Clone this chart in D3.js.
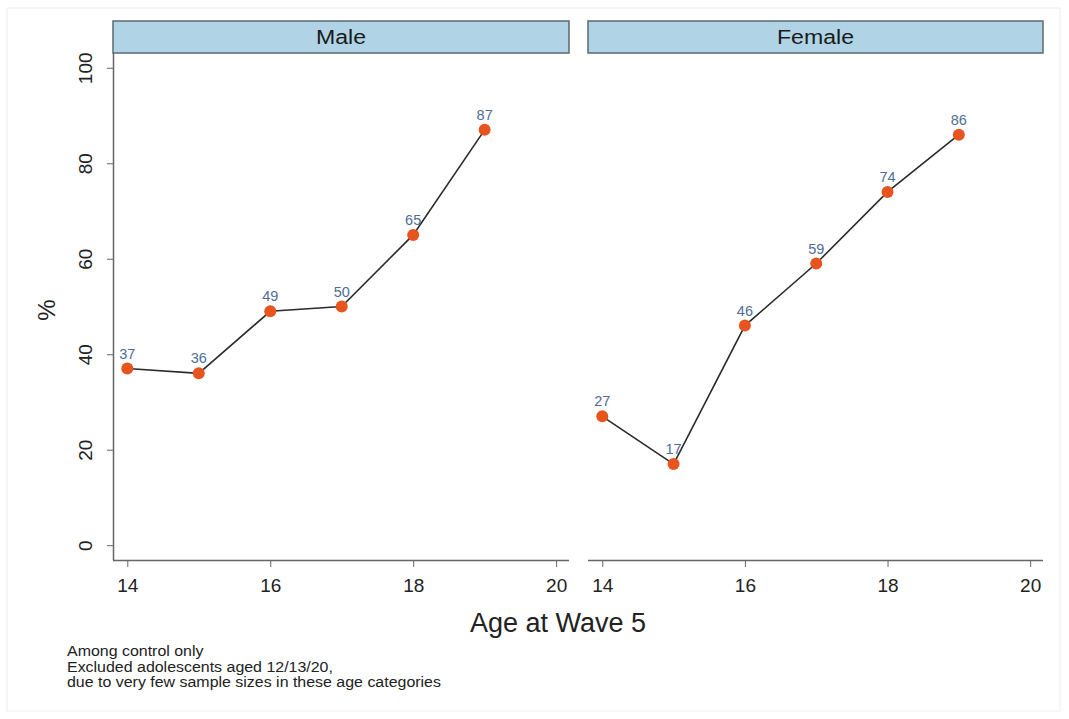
<!DOCTYPE html>
<html><head><meta charset="utf-8">
<script src="https://cdn.jsdelivr.net/npm/d3@7"></script>
<style>body{margin:0;background:#fff;} text{font-family:"Liberation Sans",Arial,sans-serif;}</style>
</head><body>
<script>
const ages = [14, 15, 16, 17, 18, 19];
const panels = ["Male", "Female"];
const maleValues = [37, 36, 49, 50, 65, 87];
const femaleValues = [27, 17, 46, 59, 74, 86];
const xTicks = [14, 16, 18, 20];
const yTicks = [0, 20, 40, 60, 80, 100];
const notes = ["Among control only", "Excluded adolescents aged 12/13/20,", "due to very few sample sizes in these age categories"];

(function () {
const W = 1069, H = 719;
const svg = d3.select("body").append("svg").attr("width", W).attr("height", H);
svg.append("rect").attr("x", 7).attr("y", 8).attr("width", 1053).attr("height", 703)
  .attr("fill", "#fff").attr("stroke", "#eeeeee");

const plotTop = 53, plotBottom = 560;
const y = d3.scaleLinear().domain([-3.1, 103.1]).range([plotBottom, plotTop]);
const panelX = [[113, 569], [588, 1043]];
const seriesData = [maleValues, femaleValues];
const FONT = "Liberation Sans, Arial, sans-serif";

panels.forEach((name, i) => {
  const [x0, x1] = panelX[i];
  const x = d3.scaleLinear().domain([13.8, 20.18]).range([x0, x1]);
  const g = svg.append("g");
  g.append("rect").attr("x", x0).attr("y", 21).attr("width", x1 - x0).attr("height", 32)
    .attr("fill", "#b0d4e6").attr("stroke", "#5a6a72").attr("stroke-width", 1.5);
  g.append("text").attr("transform", `translate(${(x0 + x1) / 2},44) scale(1.1,1)`)
    .attr("text-anchor", "middle")
    .attr("font-size", 21).attr("fill", "#1a1a1a").text(name);
  const xa = g.append("g").attr("transform", `translate(0,${plotBottom})`)
    .call(d3.axisBottom(x).tickValues(xTicks).tickSize(7).tickPadding(6).tickFormat(d3.format("d")));
  xa.select(".domain").attr("stroke", "#666").attr("stroke-width", 1.5).attr("d", `M${x0},0.5H${x1}`);
  xa.selectAll(".tick line").attr("stroke", "#666");
  xa.selectAll(".tick text").attr("font-size", 19).attr("fill", "#222")
    .attr("y", 32).attr("dy", null).attr("font-family", FONT);
  if (i === 0) {
    const ya = g.append("g").attr("transform", `translate(${x0},0)`)
      .call(d3.axisLeft(y).tickValues(yTicks).tickSize(6).tickPadding(10));
    ya.select(".domain").attr("stroke", "#666").attr("stroke-width", 1.5).attr("d", `M0.5,${plotTop}V${plotBottom}`);
    ya.selectAll(".tick line").attr("stroke", "#666");
    ya.selectAll(".tick text").attr("font-size", 19).attr("fill", "#222")
      .attr("font-family", FONT)
      .attr("text-anchor", "middle").attr("x", null)
      .attr("transform", "translate(-27.5,0) rotate(-90)").attr("dy", "0.35em");
  }
  const vals = seriesData[i];
  const pts = ages.map((a, k) => ({a, v: vals[k]}));
  const line = d3.line().x(d => x(d.a)).y(d => y(d.v));
  g.append("path").datum(pts).attr("d", line).attr("fill", "none")
    .attr("stroke", "#2b2b2b").attr("stroke-width", 1.6);
  g.selectAll("circle").data(pts).join("circle")
    .attr("cx", d => x(d.a)).attr("cy", d => y(d.v)).attr("r", 6).attr("fill", "#e8541e");
  g.selectAll("text.lbl").data(pts).join("text").attr("class", "lbl")
    .attr("x", d => x(d.a)).attr("y", d => y(d.v) - 10).attr("text-anchor", "middle")
    .attr("font-size", 14.5).attr("fill", "#4f6d96").text(d => d.v);
});

svg.append("text").attr("transform", "translate(55,310) rotate(-90)").attr("text-anchor", "middle")
  .attr("font-size", 24).attr("fill", "#222").text("%");
svg.append("text").attr("x", 558).attr("y", 632).attr("text-anchor", "middle")
  .attr("font-size", 27).attr("fill", "#222").text("Age at Wave 5");
notes.forEach((t, k) => {
  svg.append("text").attr("transform", `translate(67,${656 + k * 15.5}) scale(1.1,1)`)
    .attr("font-size", 14.5).attr("fill", "#222").text(t);
});
})();
</script>
</body></html>
